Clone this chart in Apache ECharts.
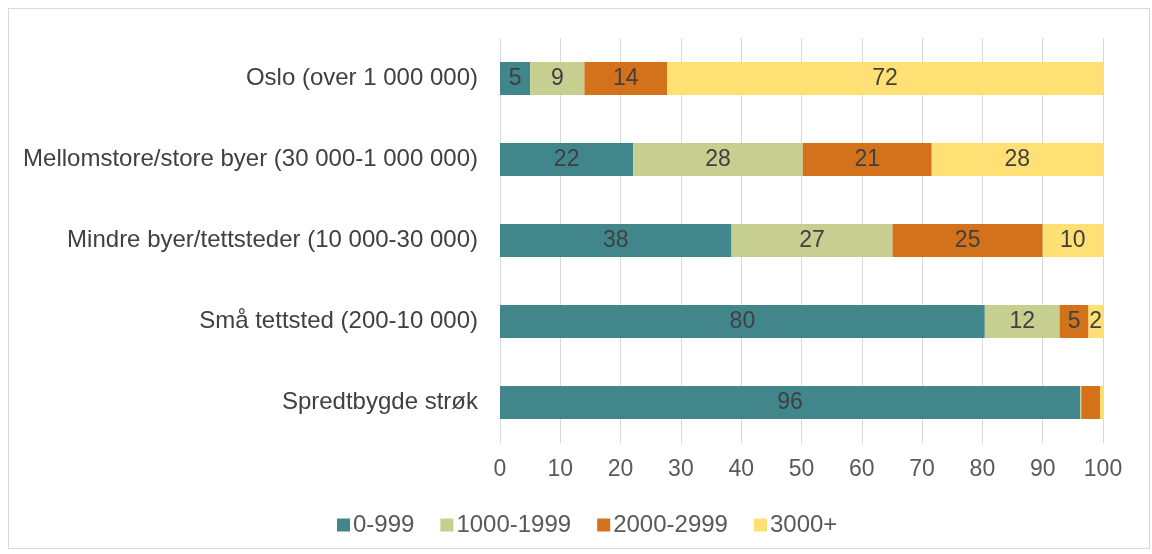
<!DOCTYPE html>
<html>
<head>
<meta charset="utf-8">
<script src="https://cdn.jsdelivr.net/npm/echarts@6/dist/echarts.min.js"></script>
<style>
  html, body { margin: 0; padding: 0; background: #fff; }
  #frame { position: absolute; left: 8px; top: 8px; width: 1142px; height: 541px; border: 1px solid #d9d9d9; box-sizing: border-box; }
  #chart { position: absolute; left: 0; top: 0; width: 1152px; height: 554px; }
</style>
</head>
<body>
<div id="frame"></div>
<div id="chart"></div>
<script>
// Settlement types, top to bottom
const categories = [
  'Oslo (over 1 000 000)',
  'Mellomstore/store byer (30 000-1 000 000)',
  'Mindre byer/tettsteder (10 000-30 000)',
  'Små tettsted (200-10 000)',
  'Spredtbygde strøk'
];
const seriesNames = ['0-999', '1000-1999', '2000-2999', '3000+'];
// Shares (%) per group, same order as categories
const v0_999      = [5.0, 22.1, 38.4, 80.4, 96.2];
const v1000_1999  = [9.0, 28.1, 26.7, 12.4, 0.2];
const v2000_2999  = [13.7, 21.4, 24.9, 4.8, 3.1];
const v3000plus   = [72.3, 28.4, 10.0, 2.4, 0.5];
const xTicks = [0, 10, 20, 30, 40, 50, 60, 70, 80, 90, 100];
// Cells drawn without a value label: [series index, category index]
const unlabelled = [[2, 4]];

const colors = ['#41868a', '#c6ce90', '#d4721c', '#ffe074'];
const allValues = [v0_999, v1000_1999, v2000_2999, v3000plus];

const isUnlabelled = (s, c) => unlabelled.some(([a, b]) => a === s && b === c);

const chart = echarts.init(document.getElementById('chart'));
chart.setOption({
  animation: false,
  textStyle: { fontFamily: '"Liberation Sans", Arial, sans-serif' },
  grid: { left: 500, right: 49, top: 38, bottom: 111, containLabel: false },
  legend: {
    data: seriesNames,
    top: 508,
    left: 332,
    itemWidth: 13,
    itemHeight: 13,
    itemGap: 26,
    icon: 'rect',
    textStyle: { fontSize: 24, color: '#595959', padding: [0, 0, 0, -2] }
  },
  xAxis: {
    type: 'value',
    min: xTicks[0],
    max: xTicks[xTicks.length - 1],
    interval: 10,
    axisLine: { show: false },
    axisTick: { show: false },
    splitLine: { lineStyle: { color: '#d9d9d9', width: 1 } },
    axisLabel: { fontSize: 23, color: '#595959', margin: 15 }
  },
  yAxis: {
    type: 'category',
    data: categories,
    inverse: true,
    axisLine: { show: false },
    axisTick: { show: false },
    axisLabel: { fontSize: 24, color: '#404040', margin: 22 }
  },
  series: seriesNames.map((name, i) => ({
    name,
    type: 'bar',
    stack: 'total',
    barWidth: 33,
    data: allValues[i].map((v, j) => isUnlabelled(i, j) ? { value: v, label: { show: false } } : v),
    itemStyle: { color: colors[i] },
    label: {
      show: true,
      position: 'inside',
      fontSize: 23,
      color: '#404040',
      formatter: p => (p.value >= 1 ? Math.round(p.value) : '')
    }
  }))
});
</script>
</body>
</html>
